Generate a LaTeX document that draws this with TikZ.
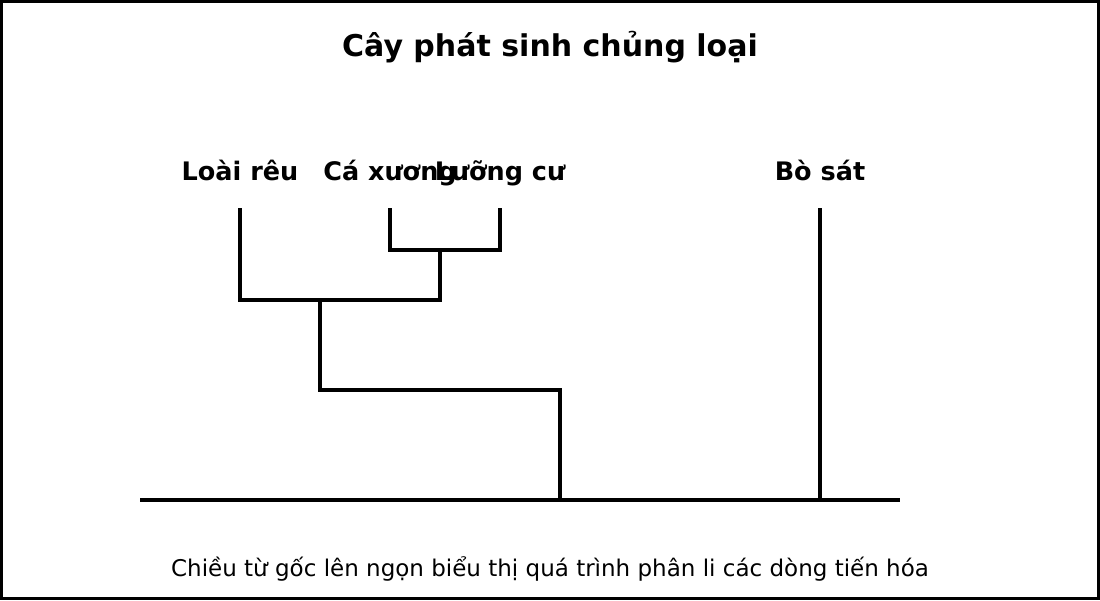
\documentclass[tikz,border=0pt]{standalone}
\usepackage{fontspec}
\setmainfont{DejaVu Sans}
\usetikzlibrary{positioning}
\tikzset{
	branch/.style={line width=3.5pt, line cap=rect},
	taxon/.style={font=\bfseries\fontsize{25.5}{30}\selectfont, inner sep=0pt},
}

\begin{document}
\begin{tikzpicture}[x=1pt, y=-1pt]
			%%%%% START %%%%%
			
			\draw[line width=3pt] (1.5, 1.5) rectangle (1098.5, 598.5);
			\useasboundingbox (0, 0) rectangle (1100, 600);
			
			\node[font=\bfseries\fontsize{30}{36}\selectfont] (title) at (550, 47) {Cây phát sinh chủng loại};
			
			\node[taxon, anchor=base] (reu) at (240, 180) {Loài rêu};
			\node[taxon, anchor=base] (ca) at (390, 180) {Cá xương};
			\node[taxon, anchor=base] (luong) at (500, 180) {Lưỡng cư};
			\node[taxon, anchor=base] (bosat) at (820, 180) {Bò sát};
			
			\coordinate (reutip) at (240, 210);
			\coordinate (catip) at (390, 210);
			\coordinate (luongtip) at (500, 210);
			\coordinate (bosattip) at (820, 210);
			
			\coordinate (caj) at (390, 250);
			\coordinate (luongj) at (500, 250);
			\coordinate (amph) at (440, 250);
			\coordinate (amphj) at (440, 300);
			\coordinate (reuj) at (240, 300);
			\coordinate (plant) at (320, 300);
			\coordinate (plantj) at (320, 390);
			\coordinate (rootj) at (560, 390);
			\coordinate (root) at (560, 500);
			\coordinate (bosatj) at (820, 500);
			\coordinate (baseL) at (140, 500);
			\coordinate (baseR) at (900, 500);
			
			\draw[branch] (catip) -- (caj) -- (luongj) -- (luongtip);
			\draw[branch] (amph) -- (amphj);
			\draw[branch] (reutip) -- (reuj) -- (amphj);
			\draw[branch] (plant) -- (plantj) -- (rootj) -- (root);
			\draw[branch] (bosattip) -- (bosatj);
			\draw[branch, line cap=butt] (baseL) -- (baseR);
			
			\node[font=\fontsize{23}{28}\selectfont] (note) at (550, 569) {Chiều từ gốc lên ngọn biểu thị quá trình phân li các dòng tiến hóa};
			
			%%%%% END %%%%%
\end{tikzpicture}
\end{document}
